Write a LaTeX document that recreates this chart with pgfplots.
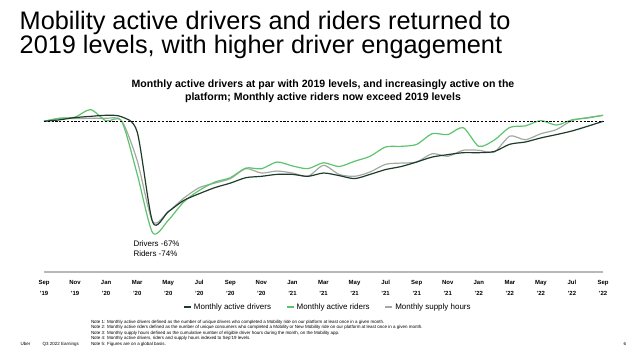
\documentclass[border=0pt]{standalone}
\usepackage{fontspec}
\setmainfont{Liberation Sans}
\usepackage{pgfplots}
\usepackage{pgfplotstable}
\pgfplotsset{compat=1.18}
\definecolor{drv}{HTML}{1F3B2A}
\definecolor{rid}{HTML}{5CC46C}
\definecolor{sup}{HTML}{A2A9A4}
\definecolor{axl}{HTML}{B8B8B8}

\pgfplotstableread{
m v
0 100
1 101
2 102.5
3 103.3
4 104
5 103
6 93
7 33
8 40
9 47.5
10 52
11 56
12 59
13 62.6
14 63.5
15 64.8
16 64.8
17 63.5
18 65.7
19 64
20 62
21 64.8
22 68
23 70
24 73
25 76.3
26 77.9
27 79.2
28 79.2
29 80
30 84.8
31 86.3
32 89
33 91.2
34 93.6
35 96.7
36 100
}\drivers

\pgfplotstableread{
m v
0 100
1 102
2 102.8
3 107.8
4 100.3
5 100
6 65
7 26
8 34.3
9 46.5
10 54.2
11 59.7
12 62.6
13 69
14 68.5
15 73
16 70.4
17 68.6
18 72.5
19 70
20 73.5
21 76.8
22 83
23 83.4
24 84.7
25 91.8
26 91.2
27 95.8
28 83.4
29 87.6
30 96
31 97
32 100.5
33 97.5
34 101
35 102.2
36 104
}\riders

\pgfplotstableread{
m v
0 100
1 102
2 101.8
3 102
4 102
5 100.4
6 74
7 33.5
8 40
9 49
10 56
11 59
12 62
13 68.6
14 65.7
15 67
16 65.7
17 63.5
18 70.8
19 64.8
20 63.5
21 66.4
22 71.5
23 72.3
24 73
25 78.5
26 76.8
27 80.8
28 80.8
29 79.6
30 90.2
31 87.8
32 91.8
33 94.5
34 100.5
35 102.5
36 104
}\supply

\newcommand{\tl}[2]{\strut #1\\\strut #2}

\begin{document}
\begin{tikzpicture}[x=1bp,y=1bp]
\useasboundingbox (0,0) rectangle (640,350);
% Title
\node[anchor=base west, inner sep=0pt, font=\fontsize{25.4}{28}\selectfont] at (19.5,321) {Mobility active drivers and riders returned to};
\node[anchor=base west, inner sep=0pt, font=\fontsize{25.4}{28}\selectfont] at (19.5,296.7) {2019 levels, with higher driver engagement};
% Subtitle
\node[anchor=base, inner sep=0pt, font=\bfseries\fontsize{10.6}{12}\selectfont] at (323,262.7) {Monthly active drivers at par with 2019 levels, and increasingly active on the};
\node[anchor=base, inner sep=0pt, font=\bfseries\fontsize{10.6}{12}\selectfont] at (323,250) {platform; Monthly active riders now exceed 2019 levels};

\begin{axis}[
  at={(44bp,78bp)}, anchor=south west,
  scale only axis, width=559bp, height=159.7bp,
  xmin=0, xmax=36, ymin=0, ymax=106,
  axis y line=none, axis x line=bottom,
  x axis line style={-, draw=axl, line width=1.3bp},
  xtick={0,2,...,36},
  xticklabels={\tl{Sep}{'19},\tl{Nov}{'19},\tl{Jan}{'20},\tl{Mar}{'20},\tl{May}{'20},\tl{Jul}{'20},\tl{Sep}{'20},\tl{Nov}{'20},\tl{Jan}{'21},\tl{Mar}{'21},\tl{May}{'21},\tl{Jul}{'21},\tl{Sep}{'21},\tl{Nov}{'21},\tl{Jan}{'22},\tl{Mar}{'22},\tl{May}{'22},\tl{Jul}{'22},\tl{Sep}{'22}},
  xticklabel style={align=center, anchor=north, inner sep=0pt, yshift=-4.5bp, font=\bfseries\fontsize{6}{11}\selectfont},
  major tick length=0pt,
  clip=false,
  legend style={at={(axis description cs:0.508,-0.219)}, anchor=center, draw=none, fill=none,
    font=\fontsize{8}{9}\selectfont, inner sep=0pt,
    /tikz/every even column/.append style={column sep=13bp}},
  legend columns=3,
  legend image code/.code={\draw[#1, line width=1.6bp] (0bp,0bp) -- (7bp,0bp);},
]
\addlegendimage{drv}
\addlegendentry{Monthly active drivers}
\addlegendimage{rid}
\addlegendentry{Monthly active riders}
\addlegendimage{sup}
\addlegendentry{Monthly supply hours}
\addplot[forget plot, sup, line width=1.2bp, smooth, tension=0.45] table[x=m,y=v] {\supply};
\addplot[forget plot, rid, line width=1.2bp, smooth, tension=0.45] table[x=m,y=v] {\riders};
\addplot[forget plot, drv, line width=1.2bp, smooth, tension=0.45] table[x=m,y=v] {\drivers};
\addplot[forget plot, black, line width=1.1bp, dash pattern=on 2.2bp off 1.6bp] coordinates {(0,100) (36,100)};
\end{axis}

% annotation
\node[anchor=base west, inner sep=0pt, font=\fontsize{8}{9}\selectfont] at (133.3,103.3) {Drivers -67\%};
\node[anchor=base west, inner sep=0pt, font=\fontsize{8}{9}\selectfont] at (133.3,93.3) {Riders -74\%};

% notes
\begin{scope}[every node/.style={anchor=base west, inner sep=0pt, font=\fontsize{4.5}{5}\selectfont}]
\node at (90.8,27) {Note 1: Monthly active drivers defined as the number of unique drivers who completed a Mobility ride on our platform at least once in a given month.};
\node at (90.8,21.5) {Note 2: Monthly active riders defined as the number of unique consumers who completed a Mobility or New Mobility ride on our platform at least once in a given month.};
\node at (90.8,16) {Note 3: Monthly supply hours defined as the cumulative number of eligible driver hours during the month, on the Mobility app.};
\node at (90.8,10.5) {Note 4: Monthly active drivers, riders and supply hours indexed to Sep'19 levels.};
\node at (90.8,5) {Note 5: Figures are on a global basis.};
\node at (20.5,5) {Uber};
\node at (42.5,5) {Q3 2022 Earnings};
\node at (623.5,5) {6};
\end{scope}
\end{tikzpicture}
\end{document}
